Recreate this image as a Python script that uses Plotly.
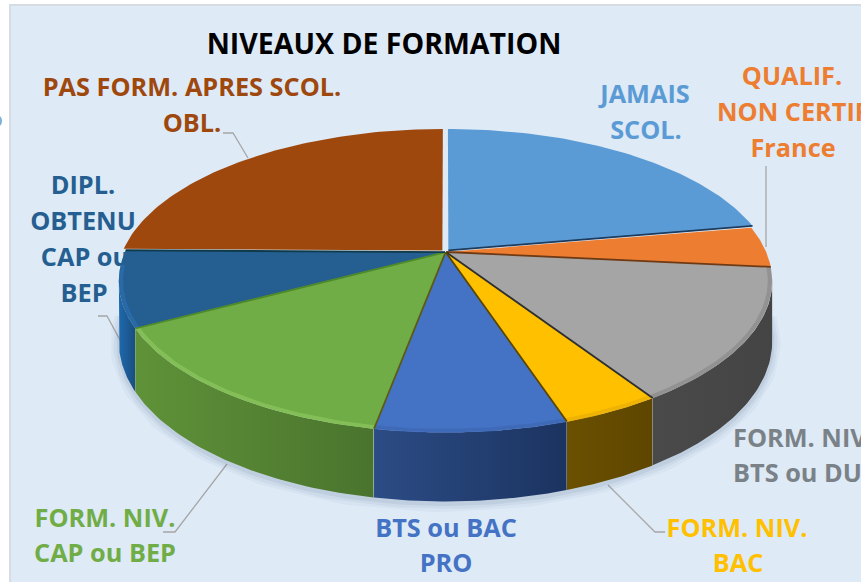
import numpy as np
import plotly.graph_objects as go

# ---------- data ----------
categories = ["JAMAIS SCOL.", "QUALIF. NON CERTIF France", "FORM. NIV. BTS ou DUT",
              "FORM. NIV. BAC", "BTS ou BAC PRO", "FORM. NIV. CAP ou BEP",
              "DIPL. OBTENU CAP ou BEP", "PAS FORM. APRES SCOL. OBL."]
shares = [22.2, 4.4, 14.3, 4.1, 7.9, 14.2, 8.1, 24.8]

# ---------- styles ----------
top_colors = ["#5B9BD5", "#ED7D31", "#A5A5A5", "#FFC000", "#4472C4", "#70AD47", "#255E91", "#9E480E"]
edge_colors = ["#1D3B5C", "#6E3A14", "#2E2E2E", "#5A4500", "#5B5A10", "#4F8A2A", "#0F3A4A", "#2E1A0C"]
wall_left = ["#3A6E9E", "#A85820", "#4A4A4A", "#6B5000", "#2C4C85", "#5F9238", "#1E69AE", "#6B3009"]
wall_right = ["#2C5478", "#8A4818", "#444444", "#5E4600", "#1B3360", "#4A742E", "#1A4E80", "#6B3009"]
bevel_colors = [None, None, "#8A8A8A", "#E8AE08", "#3E68B4", "#8CC65E", "#2A70B0", None]
explode = [0.014, 0.002, 0.002, 0.002, 0.002, 0.002, 0.002, 0.014]

title_text = "NIVEAUX DE FORMATION"
label_lines = [
    ("PAS FORM. APRES SCOL.", 192, 90, "#9E480E", "middle center"),
    ("OBL.", 192, 126, "#9E480E", "middle center"),
    ("JAMAIS", 645, 97, "#5B9BD5", "middle center"),
    ("SCOL.", 646, 133, "#5B9BD5", "middle center"),
    ("QUALIF.", 792, 79, "#ED7D31", "middle center"),
    ("NON CERTIF.", 717, 115, "#ED7D31", "middle right"),
    ("France", 793, 151, "#ED7D31", "middle center"),
    ("DIPL.", 83, 188, "#255E91", "middle center"),
    ("OBTENU", 83, 224, "#255E91", "middle center"),
    ("CAP ou", 85, 260, "#255E91", "middle center"),
    ("BEP", 84, 296, "#255E91", "middle center"),
    ("FORM. NIV.", 105, 521, "#70AD47", "middle center"),
    ("CAP ou BEP", 105, 556, "#70AD47", "middle center"),
    ("BTS ou BAC", 446, 531, "#4472C4", "middle center"),
    ("PRO", 446, 566, "#4472C4", "middle center"),
    ("FORM. NIV.", 737, 531, "#FFC000", "middle center"),
    ("BAC", 738, 566, "#FFC000", "middle center"),
    ("FORM. NIV.", 733, 441, "#7A8288", "middle right"),
    ("BTS ou DUT", 733, 476, "#7A8288", "middle right"),
]
leaders = [
    ([223, 233, 248], [133, 133, 158]),
    ([766, 766], [166, 247]),
    ([98, 107, 127], [316, 316, 353]),
    ([163, 175, 227], [532, 532, 464]),
    ([608, 655, 665], [485, 532, 532]),
]
FONT = "Open Sans"

# ---------- projection ----------
CX, CY, R, B, K = 445.5, 252.0, 320.0, 145.4, 0.192


def proj(theta, r=1.0, ox=0.0, oy=0.0):
    t = np.radians(theta)
    u = r * np.sin(t) + ox
    v = r * np.cos(t) + oy
    s = 1.0 / (1.0 + K * v)
    return CX + R * u * s, CY - B * v * s, v


def wall_h(v):
    return 58 + 11 * (-v)


fig = go.Figure()
skip = dict(showlegend=False, hoverinfo="skip")

for text, x, y, color, pos in label_lines:
    fig.add_trace(go.Scatter(x=[x], y=[y], mode="text", text=[text], textposition=pos,
                             textfont=dict(family=FONT, size=25.3, color=color, weight=700), **skip))
fig.add_trace(go.Scatter(x=[384], y=[47], mode="text", text=[title_text], textposition="middle center",
                         textfont=dict(family=FONT, size=28.5, color="#000000", weight=700), **skip))
for lx, ly in leaders:
    fig.add_trace(go.Scatter(x=lx, y=ly, mode="lines", line=dict(color="#A6A6A6", width=1.3), **skip))

edges = np.concatenate([[0], np.cumsum(shares)]) / np.sum(shares) * 360.0
VIS_A, VIS_B = 100.0, 260.0

# soft shadow below the body
th = np.linspace(VIS_A - 8, VIS_B + 8, 120)
sx, sy, sv = proj(th)
for w, a in [(18, 0.05), (12, 0.07), (6, 0.09)]:
    fig.add_trace(go.Scatter(x=sx, y=sy + wall_h(sv) + 2, mode="lines",
                             line=dict(color=f"rgba(80,100,135,{a})", width=w), **skip))

# walls, back to front at the sides first
order = [6, 2, 5, 3, 4]
for i in order:
    a, b = edges[i], edges[i + 1]
    mid = np.radians((a + b) / 2)
    ox, oy = explode[i] * np.sin(mid), explode[i] * np.cos(mid)
    lo, hi = max(a, VIS_A), min(b, VIS_B)
    if lo >= hi:
        continue
    th = np.linspace(lo, hi, 50)
    x, y, v = proj(th, 1, ox, oy)
    yb = y + wall_h(v)
    fig.add_trace(go.Scatter(x=np.r_[x, x[::-1], x[0]], y=np.r_[y, yb[::-1], y[0]], mode="lines",
                             fill="toself", line=dict(width=0),
                             fillgradient=dict(type="horizontal",
                                               colorscale=[[0, wall_left[i]], [1, wall_right[i]]]),
                             **skip))

# top faces
for i in range(len(shares)):
    a, b = edges[i], edges[i + 1]
    mid = np.radians((a + b) / 2)
    ox, oy = explode[i] * np.sin(mid), explode[i] * np.cos(mid)
    th = np.linspace(a, b, 80)
    x, y, _ = proj(th, 1, ox, oy)
    ax, ay, _ = proj(0, 0, ox, oy)
    fig.add_trace(go.Scatter(x=np.r_[ax, x, ax], y=np.r_[ay, y, ay], mode="lines", fill="toself",
                             fillcolor=top_colors[i], line=dict(width=0), **skip))
    if bevel_colors[i]:
        lo, hi = max(a, VIS_A - 5), min(b, VIS_B + 5)
        th2 = np.linspace(lo, hi, 50)
        bx, by, _ = proj(th2, 0.993, ox, oy)
        fig.add_trace(go.Scatter(x=bx, y=by, mode="lines", opacity=0.7,
                                 line=dict(color=bevel_colors[i], width=4), **skip))

# radial separators at the clockwise end of each slice
for i in range(len(shares) - 1):
    b = edges[i + 1]
    mid = np.radians((edges[i] + b) / 2)
    ox, oy = explode[i] * np.sin(mid), explode[i] * np.cos(mid)
    ax, ay, _ = proj(0, 0, ox, oy)
    ex, ey, _ = proj(b, 1, ox, oy)
    fig.add_trace(go.Scatter(x=[ax, ex], y=[ay, ey], mode="lines",
                             line=dict(color=edge_colors[i], width=1.8), **skip))

fig.update_layout(
    width=861, height=582, margin=dict(l=0, r=0, t=0, b=0, pad=0),
    paper_bgcolor="#FFFFFF", plot_bgcolor="rgba(0,0,0,0)",
    xaxis=dict(range=[0, 861], visible=False, domain=[0, 1], fixedrange=True),
    yaxis=dict(range=[582, 0], visible=False, domain=[0, 1], fixedrange=True),
    shapes=[
        dict(type="rect", x0=10, y0=5, x1=870, y1=590, layer="below",
             fillcolor="#DEEAF6", line=dict(color="#D5DCE2", width=2)),
        dict(type="circle", x0=-4, y0=116, x1=2, y1=126, layer="below",
             fillcolor="#7FB0DC", line=dict(width=0)),
    ],
)
fig.write_html("out.html", config=dict(displayModeBar=False),
               post_script="document.body.style.margin='0';document.body.style.overflow='hidden';")
